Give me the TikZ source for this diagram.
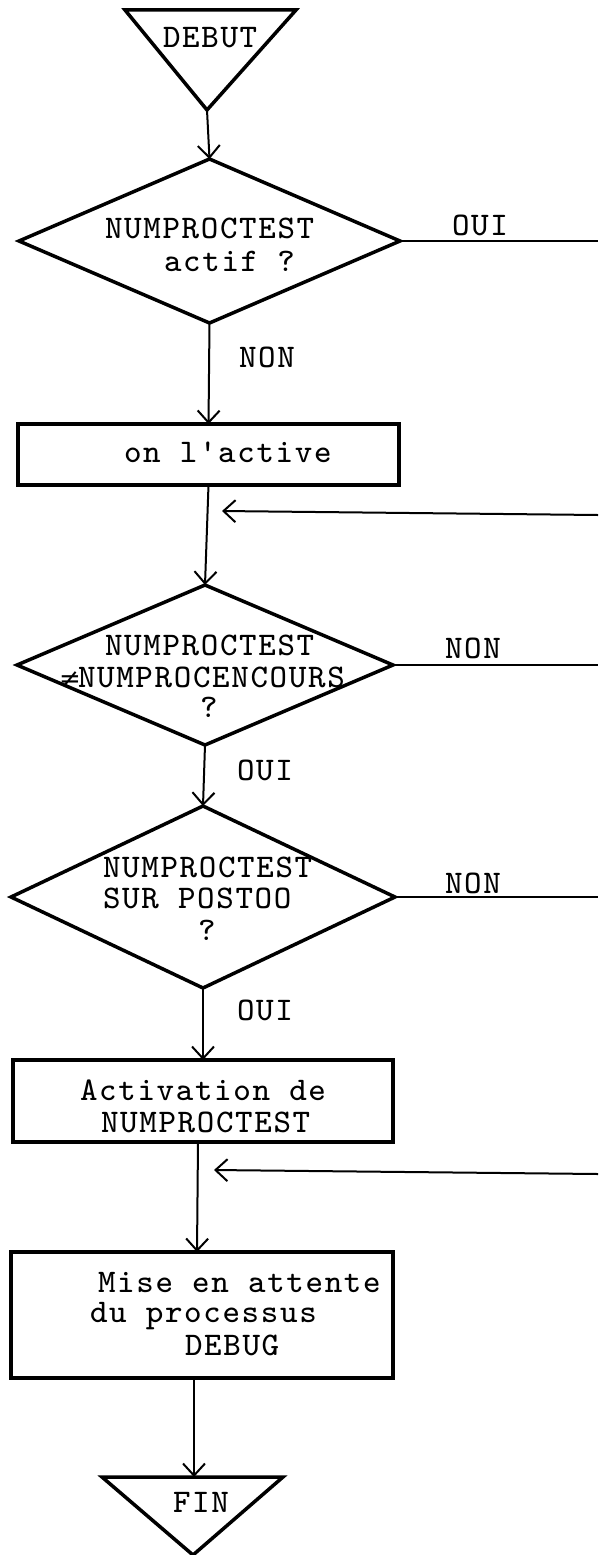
\documentclass[tikz,border=0pt]{standalone}
\usepackage{fontspec}
\setmonofont{lmmono8-regular.otf}[LetterSpace=5]
\newfontfamily\symf{DejaVu Sans}
\usetikzlibrary{arrows.meta,shapes.geometric}

\tikzset{
  lbl/.style={anchor=base west, inner sep=0pt, outer sep=0pt,
              font=\ttfamily\fontsize{33}{35}\selectfont},
  decision/.style={diamond, draw, line width=3.5pt, inner sep=0pt, outer sep=0pt},
  stepbox/.style={rectangle, draw, line width=3.8pt, inner sep=0pt, outer sep=0pt},
  term/.style={line width=3.5pt, line join=miter},
  conn/.style={line width=2pt},
  arr/.style={line width=2pt, -{Straight Barb[length=12pt,width=22pt]}}
}

\begin{document}
\begin{tikzpicture}[x=1pt, y=-1pt]
  \fill[white] (0,0) rectangle (598,1555);
  \useasboundingbox (0,0) rectangle (598,1555);
  \coordinate (edge) at (598,0);

  % start and end terminals
  \coordinate (debutapex) at (207,110);
  \draw[term] (125,10) -- (296,10) -- (debutapex) -- cycle;
  \coordinate (fintop) at (194,1477);
  \draw[term] (102,1477) -- (283,1477) -- (193,1555) -- cycle;

  % decisions
  \node[decision, minimum width=381pt, minimum height=164pt] (d1) at (209.5,241) {};
  \node[decision, minimum width=376pt, minimum height=160pt] (d2) at (205,665) {};
  \node[decision, minimum width=384pt, minimum height=182pt] (d3) at (203,897) {};

  % actions
  \node[stepbox, minimum width=381pt, minimum height=61pt] (box1) at (208.5,454.5) {};
  \node[stepbox, minimum width=380pt, minimum height=82pt] (box2) at (203,1101) {};
  \node[stepbox, minimum width=382pt, minimum height=126pt] (box3) at (202,1315) {};

  % texts
  \node[lbl] (tdebut) at (163,48) {DEBUT};
  \node[lbl] (td1a) at (105,238) {NUMPROCTEST};
  \node[lbl] (td1b) at (164,271) {actif ?};
  \node[lbl] (toui1) at (452,235) {OUI};
  \node[lbl] (tnon1) at (239,367) {NON};
  \node[lbl] (tbox1) at (124,462) {on l'active};
  \node[lbl] (td2a) at (105,655) {NUMPROCTEST};
  \node[lbl] (td2b) at (78,687) {\llap{{\symf\fontsize{26}{26}\selectfont ≠}\kern-3pt}NUMPROCENCOURS};
  \node[lbl] (td2c) at (200,717) {?};
  \node[lbl] (tnon2) at (445,658) {NON};
  \node[lbl] (toui2) at (237,780) {OUI};
  \node[lbl] (td3a) at (103,877) {NUMPROCTEST};
  \node[lbl] (td3b) at (103,908) {SUR POSTOO};
  \node[lbl] (td3c) at (198,940) {?};
  \node[lbl] (tnon3) at (445,893) {NON};
  \node[lbl] (toui3) at (237,1020) {OUI};
  \node[lbl] (tbox2a) at (80,1100) {Activation de};
  \node[lbl] (tbox2b) at (101,1132) {NUMPROCTEST};
  \node[lbl] (tbox3a) at (98,1292) {Mise en attente};
  \node[lbl] (tbox3b) at (90,1322) {du processus};
  \node[lbl] (tbox3c) at (185,1355) {DEBUG};
  \node[lbl] (tfin) at (173,1512) {FIN};

  % main flow
  \draw[arr] (debutapex) -- (d1.north);
  \draw[arr] (d1.south) -- (box1.north);
  \draw[arr] (box1.south) -- (d2.north);
  \draw[arr] (d2.south) -- (d3.north);
  \draw[arr] (d3.south) -- (box2.north);
  \draw[arr] ([xshift=-5pt]box2.south) -- ([xshift=-5pt]box3.north);
  \draw[arr] (box3.south -| fintop) -- (fintop);

  % branches leaving to the right
  \draw[conn] (d1.east) -- (d1.east -| edge);
  \draw[conn] (d2.east) -- (d2.east -| edge);
  \draw[conn] (d3.east) -- (d3.east -| edge);

  % returns coming in from the right
  \coordinate (ret1) at (598,515);
  \coordinate (ret1tip) at (222,511);
  \draw[arr] (ret1) -- (ret1tip);
  \coordinate (ret2) at (598,1174);
  \coordinate (ret2tip) at (214,1170);
  \draw[arr] (ret2) -- (ret2tip);
\end{tikzpicture}
\end{document}
